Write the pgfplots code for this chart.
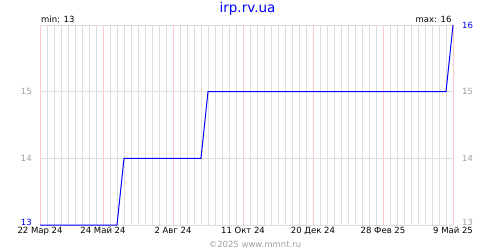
\documentclass[border=0pt]{standalone}
\usepackage{pgfplots}
\pgfplotsset{compat=1.18}
\usepackage{fontspec}
\setmainfont{DejaVu Sans}
\definecolor{gridgray}{RGB}{221,221,221}
\definecolor{gridpink}{RGB}{255,200,200}
\definecolor{lblgray}{RGB}{160,160,160}
\definecolor{lineblue}{RGB}{0,0,255}
\newcommand{\sm}{\fontsize{8.5bp}{10bp}\selectfont}
\begin{document}
\begin{tikzpicture}[x=1bp,y=1bp]
\path[use as bounding box] (0,0) rectangle (500,250);
\begin{axis}[
  at={(40bp,25bp)}, anchor=south west,
  width=413bp, height=200bp, scale only axis,
  xmin=0, xmax=413, ymin=13, ymax=16,
  clip=false,
  axis line style={draw=none},
  major tick length=0pt, minor tick length=0pt,
  xtick={0,63,133,203,273,343,413},
  xticklabels={22 Мар 24, 24 Май 24, 2 Авг 24, 11 Окт 24, 20 Дек 24, 28 Фев 25, 9 Май 25},
  minor xtick={7,14,21,28,35,42,49,56,70,77,84,91,98,105,112,119,126,140,147,154,161,168,175,182,189,196,210,217,224,231,238,245,252,259,266,280,287,294,301,308,315,322,329,336,350,357,364,371,378,385,392,399,406},
  ytick={14,15,16},
  yticklabels={14,15,{}},
  extra y ticks={13},
  extra y tick labels={\textcolor{lineblue}{13}},
  extra y tick style={yticklabel style={yshift=2.8bp}},
  xmajorgrids, xminorgrids, ymajorgrids,
  major x grid style={gridpink, line width=1bp},
  minor x grid style={gridgray, line width=1bp},
  major y grid style={gridgray, line width=1bp},
  xticklabel style={font=\sm, text=black, inner sep=0pt, anchor=north, yshift=-1.5bp},
  yticklabel style={font=\sm, text=lblgray, inner sep=0pt, anchor=east, xshift=-8bp},
]
\addplot[lineblue, line width=1bp] coordinates {(0,13) (77,13) (84,14) (161,14) (168,15) (406,15) (413,16)};
\node[anchor=west, xshift=9bp, inner sep=0pt, font=\sm, text=lineblue] at (axis cs:413,16) {16};
\node[anchor=west, xshift=9bp, inner sep=0pt, font=\sm, text=lblgray] at (axis cs:413,15) {15};
\node[anchor=west, xshift=9bp, inner sep=0pt, font=\sm, text=lblgray] at (axis cs:413,14) {14};
\node[anchor=west, xshift=9bp, yshift=2.5bp, inner sep=0pt, font=\sm, text=lblgray] at (axis cs:413,13) {13};
\node[anchor=base west, xshift=1bp, yshift=2.3bp, inner sep=0pt, font=\sm] at (axis cs:0,16) {min: 13};
\node[anchor=base east, xshift=-1.3bp, yshift=2.3bp, inner sep=0pt, font=\sm] at (axis cs:413,16) {max: 16};
\end{axis}
\node[anchor=base, inner sep=0pt, text=lineblue, font=\fontsize{13.5bp}{15bp}\selectfont] at (247.5,238) {irp.rv.ua};
\node[anchor=base, inner sep=0pt, text=lblgray, font=\sm] at (255,2.5) {©2025 www.mmnt.ru};
\end{tikzpicture}
\end{document}
